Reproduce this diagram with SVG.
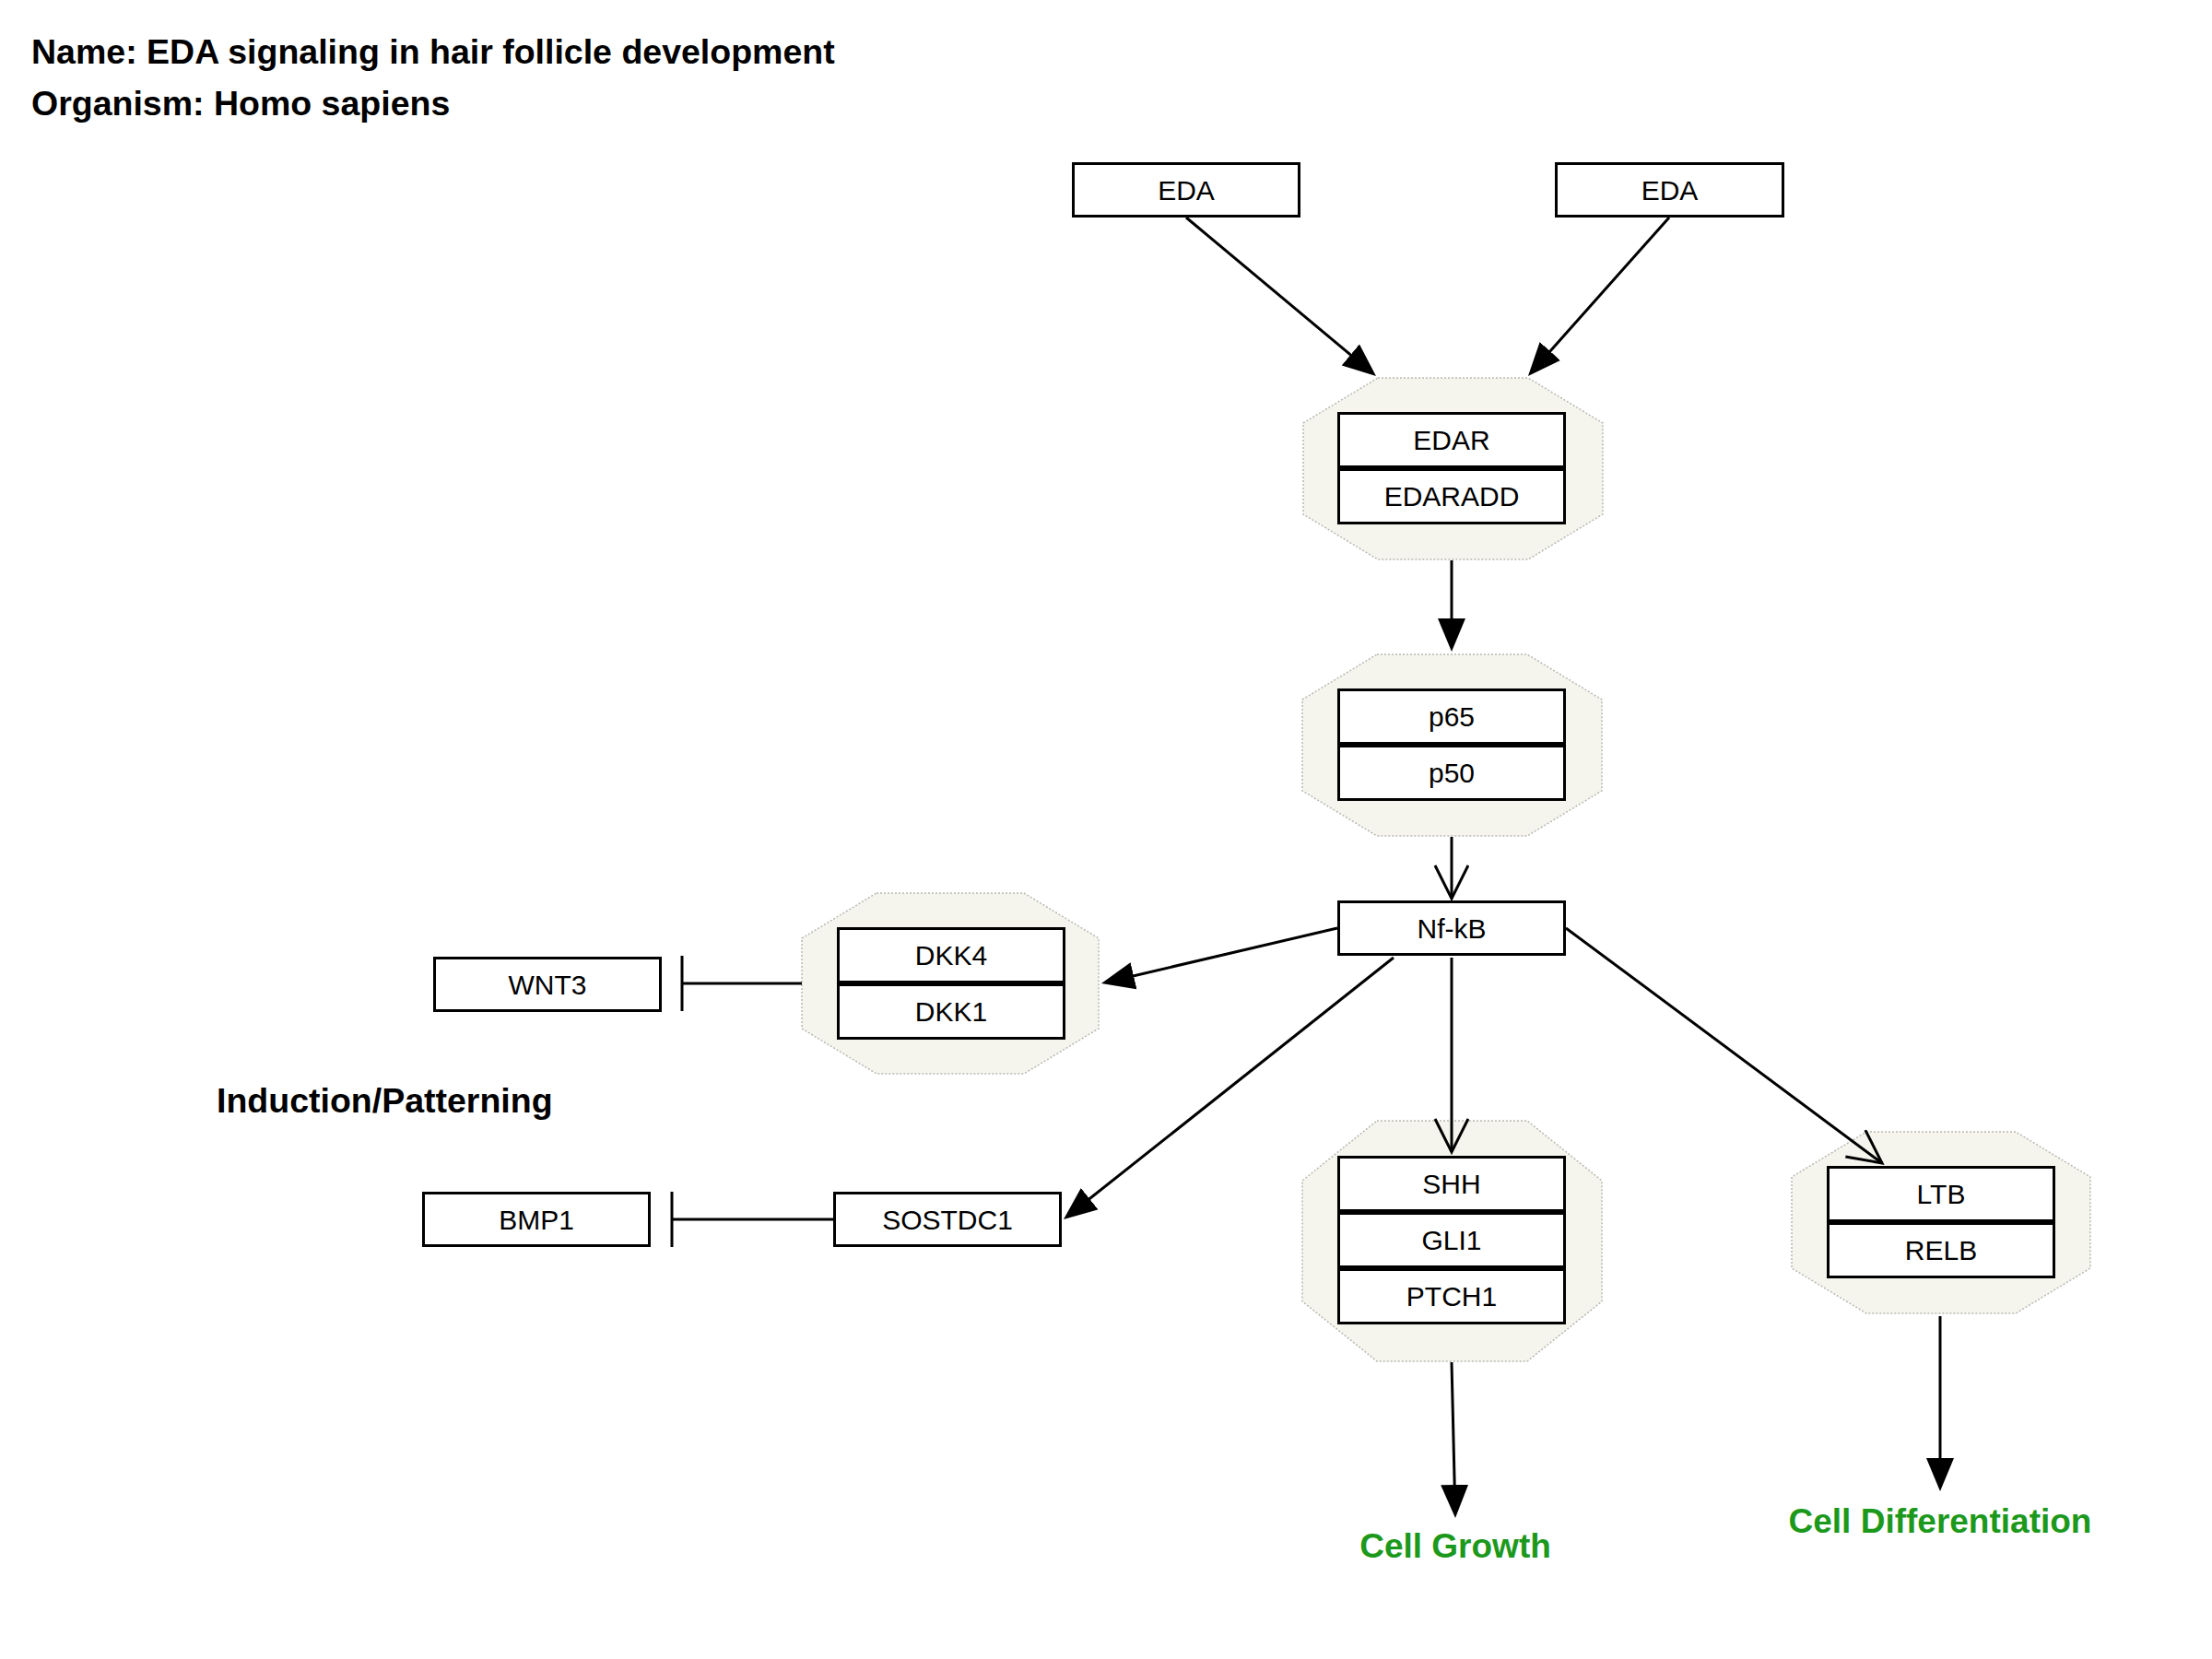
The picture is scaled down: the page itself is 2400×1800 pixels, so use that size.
<svg xmlns="http://www.w3.org/2000/svg" width="2400" height="1800" viewBox="0 0 2400 1800">
<defs>
<style>
.bg{fill:#ffffff}
.cx{fill:#f5f5ee;stroke:#b8b8b2;stroke-width:1.5;stroke-dasharray:2 2}
.box{fill:#ffffff;stroke:#000000;stroke-width:3}
.lbl{font-family:"Liberation Sans",Arial,sans-serif;font-size:30px;fill:#000000;text-anchor:middle}
.hdr{font-family:"Liberation Sans",Arial,sans-serif;font-size:37.5px;font-weight:bold;fill:#000000}
.grn{font-family:"Liberation Sans",Arial,sans-serif;font-size:37px;font-weight:bold;fill:#1c991c;text-anchor:middle}
.edge{fill:none;stroke:#000000;stroke-width:3}
</style>
<marker id="arr" markerUnits="userSpaceOnUse" markerWidth="40" markerHeight="32" refX="26" refY="15" orient="auto" viewBox="0 0 40 32">
<path d="M0,0 L36,15 L0,30 z" fill="#000000"/>
</marker>
<marker id="open" markerUnits="userSpaceOnUse" markerWidth="42" markerHeight="42" refX="37" refY="19" orient="auto" viewBox="0 0 42 42">
<path d="M1,1 L37,19 L1,37" fill="none" stroke="#000000" stroke-width="3"/>
</marker>
<marker id="tbar" markerUnits="userSpaceOnUse" markerWidth="6" markerHeight="64" refX="3" refY="32" orient="auto" viewBox="0 0 6 64">
<path d="M3,2 L3,62" fill="none" stroke="#000000" stroke-width="3"/>
</marker>
</defs>
<rect class="bg" x="0" y="0" width="2400" height="1800"/>

<g id="labels">
<text class="hdr" x="34" y="69">Name: EDA signaling in hair follicle development</text>
<text class="hdr" x="34" y="125">Organism: Homo sapiens</text>
<text class="hdr" x="235" y="1207">Induction/Patterning</text>
<text class="grn" x="1579" y="1690">Cell Growth</text>
<text class="grn" x="2105" y="1663">Cell Differentiation</text>
</g>

<g id="eda1">
<rect class="box" x="1164.5" y="177.5" width="245" height="57"/>
<text class="lbl" x="1287" y="217">EDA</text>
</g>
<g id="eda2">
<rect class="box" x="1688.5" y="177.5" width="246" height="57"/>
<text class="lbl" x="1811.5" y="217">EDA</text>
</g>

<g id="complex-edar">
<polygon class="cx" points="1495,410 1658,410 1739,459 1739,558 1658,607 1495,607 1414,558 1414,459"/>
<g id="edar">
<rect class="box" x="1452.5" y="448.5" width="245" height="58"/>
<text class="lbl" x="1575" y="488">EDAR</text>
</g>
<g id="edaradd">
<rect class="box" x="1452.5" y="509.5" width="245" height="58"/>
<text class="lbl" x="1575" y="549">EDARADD</text>
</g>
</g>

<g id="complex-nfkb">
<polygon class="cx" points="1494,710 1657,710 1738,759 1738,858 1657,907 1494,907 1413,858 1413,759"/>
<g id="p65">
<rect class="box" x="1452.5" y="748.5" width="245" height="58"/>
<text class="lbl" x="1575" y="788">p65</text>
</g>
<g id="p50">
<rect class="box" x="1452.5" y="809.5" width="245" height="58"/>
<text class="lbl" x="1575" y="849">p50</text>
</g>
</g>

<g id="nfkb">
<rect class="box" x="1452.5" y="978.5" width="245" height="57"/>
<text class="lbl" x="1575" y="1018">Nf-kB</text>
</g>

<g id="complex-dkk">
<polygon class="cx" points="951,969 1111,969 1192,1018 1192,1116 1111,1165 951,1165 870,1116 870,1018"/>
<g id="dkk4">
<rect class="box" x="909.5" y="1007.5" width="245" height="58"/>
<text class="lbl" x="1032" y="1047">DKK4</text>
</g>
<g id="dkk1">
<rect class="box" x="909.5" y="1068.5" width="245" height="58"/>
<text class="lbl" x="1032" y="1108">DKK1</text>
</g>
</g>

<g id="wnt3">
<rect class="box" x="471.5" y="1039.5" width="245" height="57"/>
<text class="lbl" x="594" y="1079">WNT3</text>
</g>

<g id="bmp1">
<rect class="box" x="459.5" y="1294.5" width="245" height="57"/>
<text class="lbl" x="582" y="1334">BMP1</text>
</g>

<g id="sostdc1">
<rect class="box" x="905.5" y="1294.5" width="245" height="57"/>
<text class="lbl" x="1028" y="1334">SOSTDC1</text>
</g>

<g id="complex-shh">
<polygon class="cx" points="1494,1216 1657,1216 1738,1281 1738,1412 1657,1477 1494,1477 1413,1412 1413,1281"/>
<g id="shh">
<rect class="box" x="1452.5" y="1255.5" width="245" height="58"/>
<text class="lbl" x="1575" y="1295">SHH</text>
</g>
<g id="gli1">
<rect class="box" x="1452.5" y="1316.5" width="245" height="58"/>
<text class="lbl" x="1575" y="1356">GLI1</text>
</g>
<g id="ptch1">
<rect class="box" x="1452.5" y="1377.5" width="245" height="58"/>
<text class="lbl" x="1575" y="1417">PTCH1</text>
</g>
</g>

<g id="complex-ltb">
<polygon class="cx" points="2025,1228 2187,1228 2268,1277 2268,1376 2187,1425 2025,1425 1944,1376 1944,1277"/>
<g id="ltb">
<rect class="box" x="1983.5" y="1266.5" width="245" height="58"/>
<text class="lbl" x="2106" y="1306">LTB</text>
</g>
<g id="relb">
<rect class="box" x="1983.5" y="1327.5" width="245" height="58"/>
<text class="lbl" x="2106" y="1367">RELB</text>
</g>
</g>

<g id="connectors">
<line class="edge" x1="1287" y1="236" x2="1485.3" y2="401.6" marker-end="url(#arr)"/>
<line class="edge" x1="1811" y1="236" x2="1664.6" y2="400.5" marker-end="url(#arr)"/>
<line class="edge" x1="1575" y1="608" x2="1575" y2="697" marker-end="url(#arr)"/>
<line class="edge" x1="1575" y1="908" x2="1575" y2="975" marker-end="url(#open)"/>
<line class="edge" x1="1451" y1="1007" x2="1204.7" y2="1064.7" marker-end="url(#arr)"/>
<line class="edge" x1="870" y1="1067" x2="740" y2="1067" marker-end="url(#tbar)"/>
<line class="edge" x1="1512" y1="1039" x2="1161.8" y2="1316.8" marker-end="url(#arr)"/>
<line class="edge" x1="904" y1="1323" x2="729" y2="1323" marker-end="url(#tbar)"/>
<line class="edge" x1="1575" y1="1039" x2="1575" y2="1250" marker-end="url(#open)"/>
<line class="edge" x1="1699" y1="1007" x2="2042" y2="1262" marker-end="url(#open)"/>
<line class="edge" x1="1575" y1="1478" x2="1578.8" y2="1637" marker-end="url(#arr)"/>
<line class="edge" x1="2105" y1="1428" x2="2105" y2="1608" marker-end="url(#arr)"/>
</g>
</svg>
